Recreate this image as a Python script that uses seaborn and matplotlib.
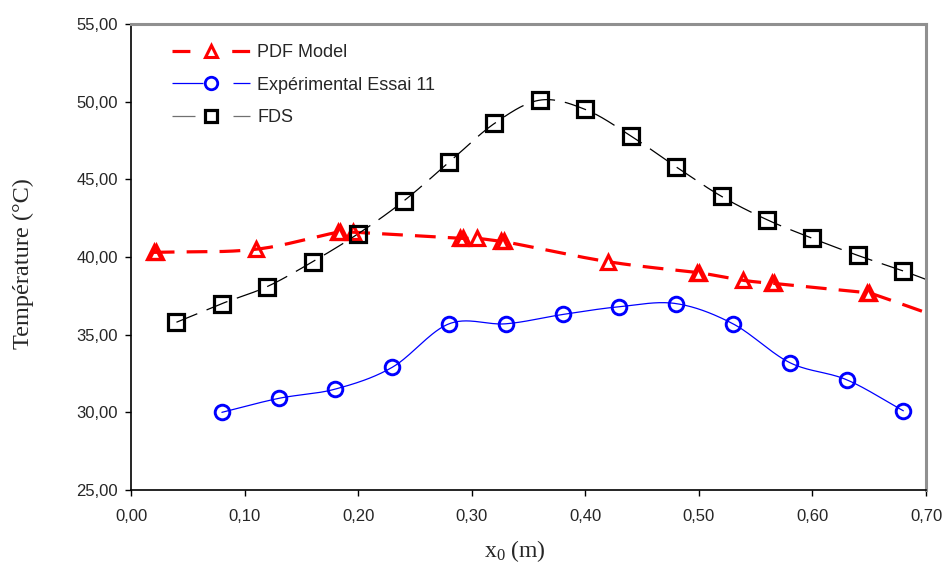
import numpy as np
import matplotlib
matplotlib.use("Agg")
import matplotlib.pyplot as plt
import seaborn as sns
from matplotlib.lines import Line2D
from matplotlib.ticker import FuncFormatter

# PDF model predictions (several stations overlap, hence near-duplicate x)
pdf_x = [0.020, 0.022, 0.110, 0.182, 0.184, 0.195, 0.290, 0.292, 0.305,
         0.326, 0.328, 0.420, 0.498, 0.500, 0.539, 0.564, 0.566, 0.648,
         0.650, 0.720]
pdf_t = [40.3, 40.3, 40.5, 41.6, 41.6, 41.6, 41.2, 41.2, 41.2,
         41.0, 41.0, 39.7, 39.0, 39.0, 38.5, 38.3, 38.3, 37.7,
         37.7, 35.9]

# Experimental measurements, test 11
exp_x = [0.08, 0.13, 0.18, 0.23, 0.28, 0.33, 0.38, 0.43, 0.48, 0.53, 0.58, 0.63, 0.68]
exp_t = [30.0, 30.9, 31.5, 32.9, 35.7, 35.7, 36.3, 36.8, 37.0, 35.7, 33.2, 32.1, 30.1]

# FDS simulation
fds_x = [0.04, 0.08, 0.12, 0.16, 0.20, 0.24, 0.28, 0.32, 0.36, 0.40, 0.44,
         0.48, 0.52, 0.56, 0.60, 0.64, 0.68, 0.72]
fds_t = [35.8, 37.0, 38.1, 39.7, 41.5, 43.6, 46.1, 48.6, 50.1, 49.5, 47.8,
         45.8, 43.9, 42.4, 41.2, 40.1, 39.1, 38.0]

x_ticks = [0.0, 0.1, 0.2, 0.3, 0.4, 0.5, 0.6, 0.7]
y_ticks = [25, 30, 35, 40, 45, 50, 55]
labels = ["PDF Model", "Expérimental Essai 11", "FDS"]


def smooth(xs, ys, n=30):
    """Piecewise cubic Hermite curve through the points (spreadsheet-style smoothing)."""
    xs = np.asarray(xs, float)
    ys = np.asarray(ys, float)
    m = np.zeros_like(ys)
    m[1:-1] = (ys[2:] - ys[:-2]) / (xs[2:] - xs[:-2])
    m[0] = (ys[1] - ys[0]) / (xs[1] - xs[0])
    m[-1] = (ys[-1] - ys[-2]) / (xs[-1] - xs[-2])
    out_x, out_y = [], []
    for i in range(len(xs) - 1):
        h = xs[i + 1] - xs[i]
        t = np.linspace(0, 1, n, endpoint=(i == len(xs) - 2))
        h00 = 2 * t**3 - 3 * t**2 + 1
        h10 = t**3 - 2 * t**2 + t
        h01 = -2 * t**3 + 3 * t**2
        h11 = t**3 - t**2
        out_x.append(xs[i] + t * h)
        out_y.append(h00 * ys[i] + h10 * h * m[i] + h01 * ys[i + 1] + h11 * h * m[i + 1])
    return np.concatenate(out_x), np.concatenate(out_y)


sns.set_style("white")
plt.rcParams["font.family"] = ["Liberation Sans", "DejaVu Sans"]
plt.rcParams["mathtext.fontset"] = "custom"
plt.rcParams["mathtext.rm"] = "Liberation Serif"
plt.rcParams["mathtext.it"] = "Liberation Serif:italic"

fig = plt.figure(figsize=(9.44, 5.64), dpi=100)
ax = fig.add_axes([0.1388, 0.1312, 0.8422, 0.8262])

red, blue, black = "#ff0000", "#0000ff", "#000000"

# Smoothed curves
sx, sy = smooth(pdf_x, pdf_t)
sns.lineplot(x=sx, y=sy, ax=ax, sort=False, color=red, lw=2.3, estimator=None)
ax.lines[-1].set_dashes((6.5, 3.8))
sx, sy = smooth(exp_x, exp_t)
sns.lineplot(x=sx, y=sy, ax=ax, sort=False, color=blue, lw=0.9, estimator=None)
sx, sy = smooth(fds_x, fds_t)
sns.lineplot(x=sx, y=sy, ax=ax, sort=False, color=black, lw=0.9, estimator=None)
ax.lines[-1].set_dashes((18, 8))

# Markers
ax.plot(pdf_x, pdf_t, ls="none", marker="^", ms=10, mfc="none", mec=red, mew=2.3)
ax.plot(exp_x, exp_t, ls="none", marker="o", ms=10.5, mfc="none", mec=blue, mew=2.1)
ax.plot(fds_x, fds_t, ls="none", marker="s", ms=11, mfc="none", mec=black, mew=2.3)

ax.set_xlim(0, 0.70)
ax.set_ylim(25, 55)
ax.set_xticks(x_ticks)
ax.set_yticks(y_ticks)
fmt = FuncFormatter(lambda v, p: f"{v:.2f}".replace(".", ","))
ax.xaxis.set_major_formatter(fmt)
ax.yaxis.set_major_formatter(fmt)
ax.tick_params(axis="both", which="major", direction="out", length=4.5, width=1,
               color="black", labelsize=12, bottom=True, left=True)
ax.tick_params(axis="x", pad=9.5)
ax.tick_params(axis="y", pad=5)

for side in ("left", "bottom"):
    ax.spines[side].set_color("black")
    ax.spines[side].set_linewidth(1.2)
for side in ("top", "right"):
    ax.spines[side].set_color("#909090")
    ax.spines[side].set_linewidth(2.2)

ax.set_ylabel("Température (°C)", family="Liberation Serif", fontsize=17.5)
ax.yaxis.set_label_coords(-0.122, 0.487)
ax.set_xlabel(r"x$_0$ (m)", family="Liberation Serif", fontsize=17)
ax.xaxis.set_label_coords(0.483, -0.103)

# Legend keys: short line pieces on either side of the marker
handles = [
    Line2D([], [], color=red, lw=2.3, dashes=(5.6, 13.1), marker="^", ms=9,
           mfc="none", mec=red, mew=2.2),
    Line2D([], [], color=blue, lw=0.9, dashes=(24.8, 24), marker="o", ms=9,
           mfc="none", mec=blue, mew=2),
    Line2D([], [], color="#707070", lw=0.9, dashes=(18.4, 30.4), marker="s", ms=9,
           mfc="none", mec=black, mew=2.3),
]
ax.legend(handles, labels, loc="upper left", bbox_to_anchor=(0.0428, 0.972),
          borderaxespad=0, frameon=False, fontsize=13, handlelength=4.3,
          handletextpad=0.4, labelspacing=0.85)

fig.savefig("out.png", dpi=100)
